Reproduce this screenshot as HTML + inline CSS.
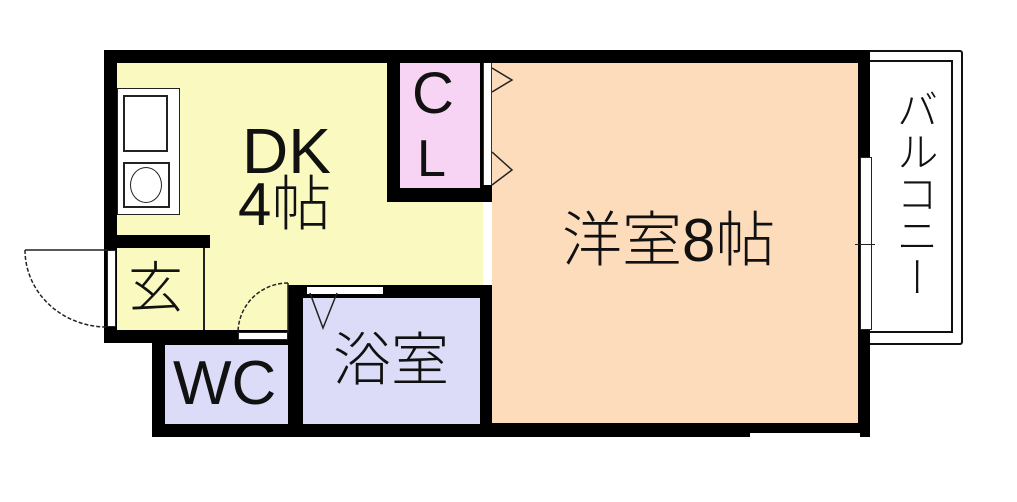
<!DOCTYPE html>
<html><head><meta charset="utf-8"><style>
body{margin:0;width:1017px;height:502px;background:#fff;position:relative;overflow:hidden;font-family:"Liberation Sans","Noto Sans CJK JP",sans-serif;}
div{position:absolute;box-sizing:border-box;}
.t{color:#111;line-height:1;white-space:nowrap;font-weight:300;}
</style></head><body>
<!-- balcony -->
<div style="left:866px;top:50px;width:97px;height:295px;border:2px solid #111;border-left:none;border-radius:0 3px 3px 0"></div>
<div style="left:866px;top:60px;width:87px;height:273px;border:2px solid #111;border-left:none"></div>
<!-- main black block -->
<div style="left:104px;top:50px;width:766px;height:293px;background:#000"></div>
<div style="left:152px;top:343px;width:718px;height:94px;background:#000"></div>
<div style="left:750px;top:433px;width:110px;height:6px;background:#fff"></div>
<!-- DK yellow -->
<div style="left:117px;top:63px;width:370px;height:222px;background:#fafac0"></div>
<div style="left:117px;top:248px;width:171px;height:82px;background:#fafac0"></div>
<!-- CL -->
<div style="left:387px;top:63px;width:106px;height:139px;background:#000"></div>
<div style="left:400px;top:63px;width:80px;height:125px;background:#f8d4f4"></div>
<div style="left:483px;top:63px;width:9px;height:122px;background:#fff;border-left:1px solid #333;border-right:1px solid #333"></div>
<div style="left:483px;top:202px;width:9px;height:83px;background:#fff"></div>
<!-- western room -->
<div style="left:492px;top:63px;width:366px;height:360px;background:#fddcbc"></div>
<div style="left:860px;top:157px;width:12px;height:173px;background:#fff;border:1px solid #222"></div>
<div style="left:855px;top:244px;width:20px;height:1px;background:#222"></div>
<!-- kitchen -->
<div style="left:117px;top:88px;width:63px;height:127px;background:#fff;border:1px solid #222"></div>
<div style="left:123px;top:95px;width:45px;height:57px;border:2px solid #222"></div>
<div style="left:123px;top:162px;width:47px;height:46px;border:2px solid #222"></div>
<div style="left:130px;top:167px;width:32px;height:36px;border:1.5px solid #222;border-radius:50%"></div>
<!-- wall below kitchen -->
<div style="left:104px;top:235px;width:106px;height:13px;background:#000"></div>
<div style="left:203px;top:248px;width:2px;height:82px;background:#222"></div>
<div style="left:107px;top:250px;width:9px;height:77px;background:#fff;border:1px solid #222"></div>
<!-- WC / bath -->
<div style="left:165px;top:345px;width:123px;height:79px;background:#dcdcf8"></div>
<div style="left:238px;top:332px;width:50px;height:8px;background:#fff;border:1px solid #222"></div>
<div style="left:288px;top:285px;width:204px;height:13px;background:#000"></div>
<div style="left:307px;top:287px;width:76px;height:7px;background:#fff"></div>
<div style="left:303px;top:298px;width:177px;height:126px;background:#dcdcf8"></div>
<div style="left:480px;top:285px;width:12px;height:152px;background:#000"></div>
<svg style="position:absolute;left:0;top:0" width="1017" height="502">
<g fill="none" stroke="#222" stroke-width="1.5">
<path d="M25 250 L107 250"/><path d="M25 250 A82 77 0 0 0 107 327" stroke-dasharray="4 2"/>
<path d="M288 283 A50 50 0 0 0 238 333" stroke-dasharray="4 2"/><path d="M288 283 L288 333"/>
<path d="M310 293 L323 328 L337 293"/>
<path d="M492 68 L512 80 L492 92"/><path d="M492 152 L512 170 L492 185"/>
</g></svg>
<!-- text -->
<div class="t" style="left:242px;top:119px;font-size:64px">DK</div>
<div class="t" style="left:238px;top:175px;font-size:60px">4帖</div>
<div class="t" style="left:412px;top:65px;font-size:58px">C</div>
<div class="t" style="left:417px;top:133px;font-size:52px">L</div>
<div class="t" style="left:128px;top:261px;font-size:55px">玄</div>
<div class="t" style="left:173px;top:353px;font-size:62px">WC</div>
<div class="t" style="left:333px;top:332px;font-size:58px">浴室</div>
<div class="t" style="left:562px;top:211px;font-size:60px">洋室8帖</div>
<div class="t" style="left:893px;top:88px;font-size:42px;writing-mode:vertical-rl;line-height:1">バルコニー</div>
</body></html>
